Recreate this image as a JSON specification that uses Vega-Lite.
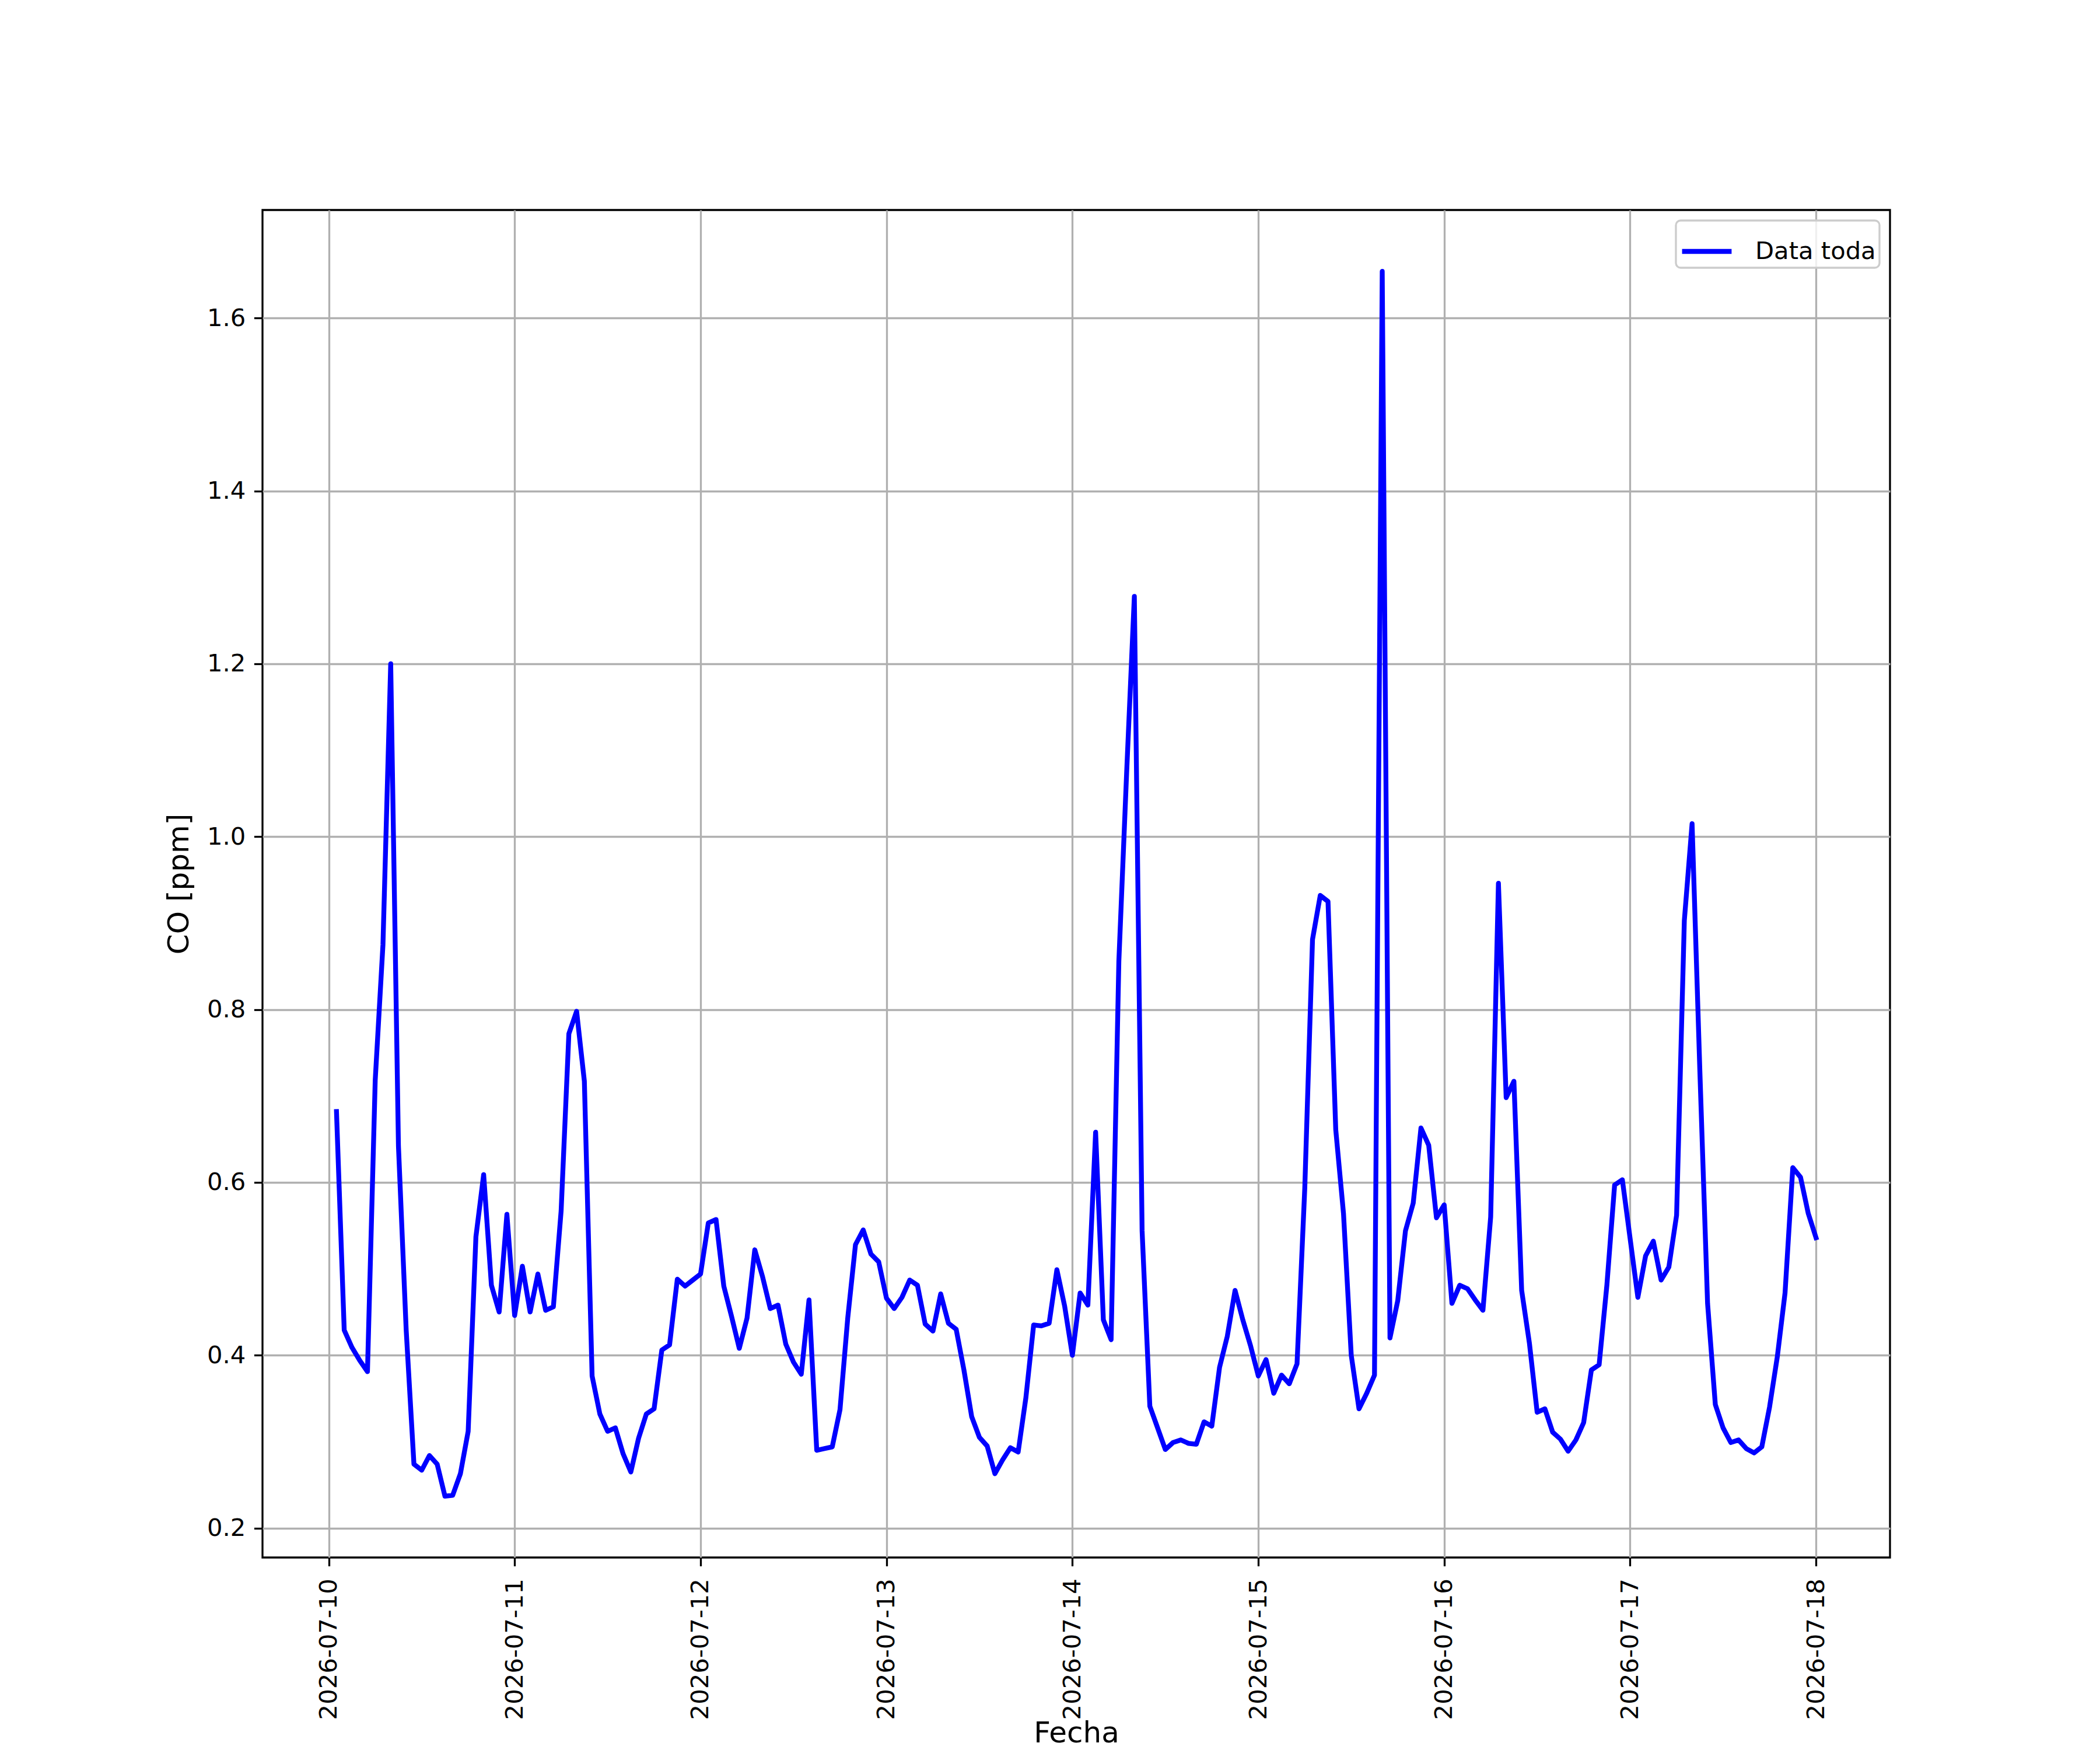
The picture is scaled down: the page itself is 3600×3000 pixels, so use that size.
{
  "$schema": "https://vega.github.io/schema/vega-lite/v6.json",
  "width": 2790,
  "height": 2310,
  "autosize": {"type": "none"},
  "padding": {"left": 450, "top": 360, "right": 360, "bottom": 330},
  "background": "white",
  "config": {
    "font": "DejaVu Sans",
    "view": {"stroke": "black", "strokeWidth": 3.3},
    "axis": {
      "domain": false,
      "grid": true,
      "gridColor": "#b0b0b0",
      "gridWidth": 3.3,
      "tickColor": "black",
      "tickSize": 14.6,
      "tickWidth": 3.3,
      "labelColor": "black",
      "labelFontSize": 41.7,
      "labelPadding": 14.6,
      "labelLimit": 0,
      "titleColor": "black",
      "titleFontSize": 50,
      "titleFontWeight": "normal"
    },
    "legend": {"strokeWidth": 3.3}
  },
  "data": {
    "values": [
      {"t": "2026-07-10T01:00:00Z", "co": 0.682}, {"t": "2026-07-10T02:00:00Z", "co": 0.429}, {"t": "2026-07-10T03:00:00Z", "co": 0.409},
      {"t": "2026-07-10T04:00:00Z", "co": 0.394}, {"t": "2026-07-10T05:00:00Z", "co": 0.381}, {"t": "2026-07-10T06:00:00Z", "co": 0.718},
      {"t": "2026-07-10T07:00:00Z", "co": 0.875}, {"t": "2026-07-10T08:00:00Z", "co": 1.200}, {"t": "2026-07-10T09:00:00Z", "co": 0.642},
      {"t": "2026-07-10T10:00:00Z", "co": 0.429}, {"t": "2026-07-10T11:00:00Z", "co": 0.274}, {"t": "2026-07-10T12:00:00Z", "co": 0.267},
      {"t": "2026-07-10T13:00:00Z", "co": 0.284}, {"t": "2026-07-10T14:00:00Z", "co": 0.274}, {"t": "2026-07-10T15:00:00Z", "co": 0.237},
      {"t": "2026-07-10T16:00:00Z", "co": 0.238}, {"t": "2026-07-10T17:00:00Z", "co": 0.263}, {"t": "2026-07-10T18:00:00Z", "co": 0.312},
      {"t": "2026-07-10T19:00:00Z", "co": 0.537}, {"t": "2026-07-10T20:00:00Z", "co": 0.609}, {"t": "2026-07-10T21:00:00Z", "co": 0.481},
      {"t": "2026-07-10T22:00:00Z", "co": 0.450}, {"t": "2026-07-10T23:00:00Z", "co": 0.563},
      {"t": "2026-07-11T00:00:00Z", "co": 0.446}, {"t": "2026-07-11T01:00:00Z", "co": 0.503}, {"t": "2026-07-11T02:00:00Z", "co": 0.450},
      {"t": "2026-07-11T03:00:00Z", "co": 0.494}, {"t": "2026-07-11T04:00:00Z", "co": 0.452}, {"t": "2026-07-11T05:00:00Z", "co": 0.456},
      {"t": "2026-07-11T06:00:00Z", "co": 0.567}, {"t": "2026-07-11T07:00:00Z", "co": 0.772}, {"t": "2026-07-11T08:00:00Z", "co": 0.798},
      {"t": "2026-07-11T09:00:00Z", "co": 0.717}, {"t": "2026-07-11T10:00:00Z", "co": 0.376}, {"t": "2026-07-11T11:00:00Z", "co": 0.332},
      {"t": "2026-07-11T12:00:00Z", "co": 0.312}, {"t": "2026-07-11T13:00:00Z", "co": 0.316}, {"t": "2026-07-11T14:00:00Z", "co": 0.286},
      {"t": "2026-07-11T15:00:00Z", "co": 0.265}, {"t": "2026-07-11T16:00:00Z", "co": 0.304}, {"t": "2026-07-11T17:00:00Z", "co": 0.332},
      {"t": "2026-07-11T18:00:00Z", "co": 0.338}, {"t": "2026-07-11T19:00:00Z", "co": 0.406}, {"t": "2026-07-11T20:00:00Z", "co": 0.412},
      {"t": "2026-07-11T21:00:00Z", "co": 0.488}, {"t": "2026-07-11T22:00:00Z", "co": 0.480}, {"t": "2026-07-11T23:00:00Z", "co": 0.487},
      {"t": "2026-07-12T00:00:00Z", "co": 0.494}, {"t": "2026-07-12T01:00:00Z", "co": 0.553}, {"t": "2026-07-12T02:00:00Z", "co": 0.557},
      {"t": "2026-07-12T03:00:00Z", "co": 0.480}, {"t": "2026-07-12T04:00:00Z", "co": 0.445}, {"t": "2026-07-12T05:00:00Z", "co": 0.408},
      {"t": "2026-07-12T06:00:00Z", "co": 0.443}, {"t": "2026-07-12T07:00:00Z", "co": 0.522}, {"t": "2026-07-12T08:00:00Z", "co": 0.491},
      {"t": "2026-07-12T09:00:00Z", "co": 0.454}, {"t": "2026-07-12T10:00:00Z", "co": 0.458}, {"t": "2026-07-12T11:00:00Z", "co": 0.413},
      {"t": "2026-07-12T12:00:00Z", "co": 0.392}, {"t": "2026-07-12T13:00:00Z", "co": 0.378}, {"t": "2026-07-12T14:00:00Z", "co": 0.464},
      {"t": "2026-07-12T15:00:00Z", "co": 0.290}, {"t": "2026-07-12T16:00:00Z", "co": 0.292}, {"t": "2026-07-12T17:00:00Z", "co": 0.294},
      {"t": "2026-07-12T18:00:00Z", "co": 0.337}, {"t": "2026-07-12T19:00:00Z", "co": 0.443}, {"t": "2026-07-12T20:00:00Z", "co": 0.528},
      {"t": "2026-07-12T21:00:00Z", "co": 0.545}, {"t": "2026-07-12T22:00:00Z", "co": 0.517}, {"t": "2026-07-12T23:00:00Z", "co": 0.508},
      {"t": "2026-07-13T00:00:00Z", "co": 0.466}, {"t": "2026-07-13T01:00:00Z", "co": 0.454}, {"t": "2026-07-13T02:00:00Z", "co": 0.467},
      {"t": "2026-07-13T03:00:00Z", "co": 0.487}, {"t": "2026-07-13T04:00:00Z", "co": 0.481}, {"t": "2026-07-13T05:00:00Z", "co": 0.436},
      {"t": "2026-07-13T06:00:00Z", "co": 0.428}, {"t": "2026-07-13T07:00:00Z", "co": 0.471}, {"t": "2026-07-13T08:00:00Z", "co": 0.437},
      {"t": "2026-07-13T09:00:00Z", "co": 0.430}, {"t": "2026-07-13T10:00:00Z", "co": 0.383}, {"t": "2026-07-13T11:00:00Z", "co": 0.329},
      {"t": "2026-07-13T12:00:00Z", "co": 0.305}, {"t": "2026-07-13T13:00:00Z", "co": 0.295}, {"t": "2026-07-13T14:00:00Z", "co": 0.263},
      {"t": "2026-07-13T15:00:00Z", "co": 0.279}, {"t": "2026-07-13T16:00:00Z", "co": 0.293}, {"t": "2026-07-13T17:00:00Z", "co": 0.288},
      {"t": "2026-07-13T18:00:00Z", "co": 0.351}, {"t": "2026-07-13T19:00:00Z", "co": 0.435}, {"t": "2026-07-13T20:00:00Z", "co": 0.434},
      {"t": "2026-07-13T21:00:00Z", "co": 0.437}, {"t": "2026-07-13T22:00:00Z", "co": 0.499}, {"t": "2026-07-13T23:00:00Z", "co": 0.457},
      {"t": "2026-07-14T00:00:00Z", "co": 0.400}, {"t": "2026-07-14T01:00:00Z", "co": 0.472}, {"t": "2026-07-14T02:00:00Z", "co": 0.458},
      {"t": "2026-07-14T03:00:00Z", "co": 0.658}, {"t": "2026-07-14T04:00:00Z", "co": 0.441}, {"t": "2026-07-14T05:00:00Z", "co": 0.418},
      {"t": "2026-07-14T06:00:00Z", "co": 0.856}, {"t": "2026-07-14T07:00:00Z", "co": 1.073}, {"t": "2026-07-14T08:00:00Z", "co": 1.278},
      {"t": "2026-07-14T09:00:00Z", "co": 0.544}, {"t": "2026-07-14T10:00:00Z", "co": 0.341}, {"t": "2026-07-14T11:00:00Z", "co": 0.316},
      {"t": "2026-07-14T12:00:00Z", "co": 0.291}, {"t": "2026-07-14T13:00:00Z", "co": 0.299}, {"t": "2026-07-14T14:00:00Z", "co": 0.302},
      {"t": "2026-07-14T15:00:00Z", "co": 0.298}, {"t": "2026-07-14T16:00:00Z", "co": 0.297}, {"t": "2026-07-14T17:00:00Z", "co": 0.323},
      {"t": "2026-07-14T18:00:00Z", "co": 0.318}, {"t": "2026-07-14T19:00:00Z", "co": 0.386}, {"t": "2026-07-14T20:00:00Z", "co": 0.422},
      {"t": "2026-07-14T21:00:00Z", "co": 0.475}, {"t": "2026-07-14T22:00:00Z", "co": 0.441}, {"t": "2026-07-14T23:00:00Z", "co": 0.411},
      {"t": "2026-07-15T00:00:00Z", "co": 0.376}, {"t": "2026-07-15T01:00:00Z", "co": 0.395}, {"t": "2026-07-15T02:00:00Z", "co": 0.356},
      {"t": "2026-07-15T03:00:00Z", "co": 0.377}, {"t": "2026-07-15T04:00:00Z", "co": 0.367}, {"t": "2026-07-15T05:00:00Z", "co": 0.390},
      {"t": "2026-07-15T06:00:00Z", "co": 0.593}, {"t": "2026-07-15T07:00:00Z", "co": 0.881}, {"t": "2026-07-15T08:00:00Z", "co": 0.932},
      {"t": "2026-07-15T09:00:00Z", "co": 0.925}, {"t": "2026-07-15T10:00:00Z", "co": 0.661}, {"t": "2026-07-15T11:00:00Z", "co": 0.564},
      {"t": "2026-07-15T12:00:00Z", "co": 0.400}, {"t": "2026-07-15T13:00:00Z", "co": 0.338}, {"t": "2026-07-15T14:00:00Z", "co": 0.356},
      {"t": "2026-07-15T15:00:00Z", "co": 0.377}, {"t": "2026-07-15T16:00:00Z", "co": 1.654}, {"t": "2026-07-15T17:00:00Z", "co": 0.420},
      {"t": "2026-07-15T18:00:00Z", "co": 0.463}, {"t": "2026-07-15T19:00:00Z", "co": 0.544}, {"t": "2026-07-15T20:00:00Z", "co": 0.576},
      {"t": "2026-07-15T21:00:00Z", "co": 0.663}, {"t": "2026-07-15T22:00:00Z", "co": 0.643}, {"t": "2026-07-15T23:00:00Z", "co": 0.559},
      {"t": "2026-07-16T00:00:00Z", "co": 0.574}, {"t": "2026-07-16T01:00:00Z", "co": 0.460}, {"t": "2026-07-16T02:00:00Z", "co": 0.481},
      {"t": "2026-07-16T03:00:00Z", "co": 0.477}, {"t": "2026-07-16T04:00:00Z", "co": 0.464}, {"t": "2026-07-16T05:00:00Z", "co": 0.452},
      {"t": "2026-07-16T06:00:00Z", "co": 0.560}, {"t": "2026-07-16T07:00:00Z", "co": 0.946}, {"t": "2026-07-16T08:00:00Z", "co": 0.698},
      {"t": "2026-07-16T09:00:00Z", "co": 0.717}, {"t": "2026-07-16T10:00:00Z", "co": 0.475}, {"t": "2026-07-16T11:00:00Z", "co": 0.414},
      {"t": "2026-07-16T12:00:00Z", "co": 0.334}, {"t": "2026-07-16T13:00:00Z", "co": 0.338}, {"t": "2026-07-16T14:00:00Z", "co": 0.311},
      {"t": "2026-07-16T15:00:00Z", "co": 0.303}, {"t": "2026-07-16T16:00:00Z", "co": 0.289}, {"t": "2026-07-16T17:00:00Z", "co": 0.302},
      {"t": "2026-07-16T18:00:00Z", "co": 0.322}, {"t": "2026-07-16T19:00:00Z", "co": 0.383}, {"t": "2026-07-16T20:00:00Z", "co": 0.389},
      {"t": "2026-07-16T21:00:00Z", "co": 0.481}, {"t": "2026-07-16T22:00:00Z", "co": 0.597}, {"t": "2026-07-16T23:00:00Z", "co": 0.603},
      {"t": "2026-07-17T00:00:00Z", "co": 0.535}, {"t": "2026-07-17T01:00:00Z", "co": 0.467}, {"t": "2026-07-17T02:00:00Z", "co": 0.515},
      {"t": "2026-07-17T03:00:00Z", "co": 0.532}, {"t": "2026-07-17T04:00:00Z", "co": 0.487}, {"t": "2026-07-17T05:00:00Z", "co": 0.502},
      {"t": "2026-07-17T06:00:00Z", "co": 0.562}, {"t": "2026-07-17T07:00:00Z", "co": 0.903}, {"t": "2026-07-17T08:00:00Z", "co": 1.015},
      {"t": "2026-07-17T09:00:00Z", "co": 0.730}, {"t": "2026-07-17T10:00:00Z", "co": 0.460}, {"t": "2026-07-17T11:00:00Z", "co": 0.343},
      {"t": "2026-07-17T12:00:00Z", "co": 0.316}, {"t": "2026-07-17T13:00:00Z", "co": 0.299}, {"t": "2026-07-17T14:00:00Z", "co": 0.302},
      {"t": "2026-07-17T15:00:00Z", "co": 0.292}, {"t": "2026-07-17T16:00:00Z", "co": 0.287}, {"t": "2026-07-17T17:00:00Z", "co": 0.294},
      {"t": "2026-07-17T18:00:00Z", "co": 0.340}, {"t": "2026-07-17T19:00:00Z", "co": 0.398}, {"t": "2026-07-17T20:00:00Z", "co": 0.472},
      {"t": "2026-07-17T21:00:00Z", "co": 0.617}, {"t": "2026-07-17T22:00:00Z", "co": 0.606}, {"t": "2026-07-17T23:00:00Z", "co": 0.564},
      {"t": "2026-07-18T00:00:00Z", "co": 0.536}
    ]
  },
  "mark": {"type": "line", "strokeWidth": 8.3, "strokeJoin": "round", "strokeCap": "square"},
  "encoding": {
    "x": {
      "field": "t",
      "type": "temporal",
      "title": "Fecha",
      "scale": {
        "type": "utc",
        "domain": [
          {"year": 2026, "month": 7, "date": 9, "hours": 15, "minutes": 27, "utc": true},
          {"year": 2026, "month": 7, "date": 18, "hours": 9, "minutes": 33, "utc": true}
        ]
      },
      "axis": {
        "values": [
          {"year": 2026, "month": 7, "date": 10, "utc": true},
          {"year": 2026, "month": 7, "date": 11, "utc": true},
          {"year": 2026, "month": 7, "date": 12, "utc": true},
          {"year": 2026, "month": 7, "date": 13, "utc": true},
          {"year": 2026, "month": 7, "date": 14, "utc": true},
          {"year": 2026, "month": 7, "date": 15, "utc": true},
          {"year": 2026, "month": 7, "date": 16, "utc": true},
          {"year": 2026, "month": 7, "date": 17, "utc": true},
          {"year": 2026, "month": 7, "date": 18, "utc": true}
        ],
        "labelExpr": "utcFormat(datum.value, '%Y-%m-%d')",
        "labelAngle": 270,
        "labelLimit": 0,
        "labelPadding": 21,
        "titleY": 316,
        "titleBaseline": "alphabetic"
      }
    },
    "y": {
      "field": "co",
      "type": "quantitative",
      "title": "CO [ppm]",
      "scale": {"domain": [0.166, 1.725], "nice": false, "zero": false},
      "axis": {
        "values": [0.2, 0.4, 0.6, 0.8, 1.0, 1.2, 1.4, 1.6],
        "format": ".1f",
        "titlePadding": 22
      }
    },
    "color": {
      "datum": "Data toda",
      "type": "nominal",
      "scale": {"range": ["#0000ff"]},
      "legend": {
        "title": null,
        "orient": "top-right",
        "offset": 18,
        "padding": 6,
        "strokeColor": "#cccccc",
        "cornerRadius": 8,
        "fillColor": "rgba(255,255,255,0.8)",
        "symbolType": "stroke",
        "symbolStrokeWidth": 8.3,
        "symbolSize": 7200,
        "labelFontSize": 41.7,
        "labelColor": "black",
        "labelLimit": 0,
        "labelOffset": 36
      }
    }
  }
}
